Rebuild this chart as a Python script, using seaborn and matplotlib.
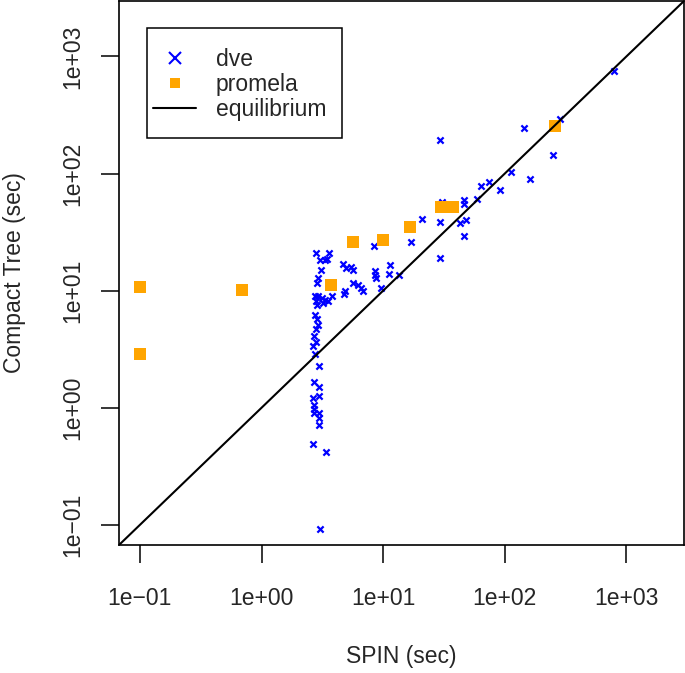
import matplotlib
matplotlib.use('Agg')
import matplotlib.pyplot as plt
from matplotlib.lines import Line2D
from matplotlib.patches import Rectangle
import pandas as pd
import seaborn as sns

# dve runs: SPIN time vs compact tree time (sec)
dve_spin = [2.79, 3.61, 3.03, 3.33, 3.48, 3.09, 4.71, 4.93, 5.42, 5.70,
            2.90, 2.85, 5.63, 6.26, 6.55, 6.81, 4.87, 4.77, 2.76, 2.93,
            3.13, 3.33, 3.55, 3.78, 2.79, 2.85, 3.23, 2.76, 2.85, 2.93,
            2.79, 2.72, 2.79, 2.67, 2.76, 2.97, 2.70, 2.99, 2.99, 2.67,
            2.70, 2.70, 2.70, 2.97, 2.97, 2.97, 2.67, 3.40, 3.03, 8.43,
            17.0, 8.59, 8.59, 8.75, 11.3, 11.2, 13.6, 9.57, 20.8, 29.5,
            29.1, 29.1, 145, 249, 112, 160, 63.7, 73.6, 90.6, 45.8,
            45.8, 59.0, 30.4, 43.0, 48.2, 45.8, 786, 283]
dve_tree = [20.8, 21.1, 18.3, 18.3, 18.5, 14.9, 16.9, 15.6, 15.8, 14.9,
            12.8, 11.6, 11.7, 11.2, 10.5, 9.86, 9.86, 9.43, 8.96, 8.96,
            8.67, 8.39, 8.12, 8.96, 8.12, 7.61, 7.86, 6.14, 5.68, 5.05,
            4.67, 4.10, 3.61, 3.37, 2.87, 2.28, 1.67, 1.50, 1.27, 1.21,
            1.06, 0.98, 0.90, 0.90, 0.81, 0.71, 0.486, 0.42, 0.0925, 24.0,
            26.2, 14.6, 13.7, 12.8, 16.6, 13.9, 13.7, 10.5, 40.7, 18.9,
            38.7, 193, 247, 145, 104, 88.9, 78.0, 84.4, 72.8, 59.1,
            55.4, 60.2, 57.1, 37.5, 40.0, 29.4, 746, 294]

# promela runs
promela_spin = [0.1, 0.1, 0.69, 3.7, 5.6, 10.0, 16.7, 30.0, 37.5, 260]
promela_tree = [10.8, 2.9, 10.2, 11.2, 26.0, 27.0, 35.0, 51.8, 51.8, 255]

axis_lims = [0.0673, 2972]
tick_vals = [0.1, 1, 10, 100, 1000]
tick_labels = ['1e\u221201', '1e+00', '1e+01', '1e+02', '1e+03']
legend_labels = ['dve', 'promela', 'equilibrium']

sns.set_style('ticks')
plt.rcParams['font.family'] = ['Liberation Sans', 'DejaVu Sans']
FS = 16.5

dve = pd.DataFrame({'spin': dve_spin, 'tree': dve_tree})
promela = pd.DataFrame({'spin': promela_spin, 'tree': promela_tree})

fig = plt.figure(figsize=(6.85, 6.73), dpi=100)
ax = fig.add_axes([119 / 685, 128 / 673, 565 / 685, 544 / 673])

sns.scatterplot(data=dve, x='spin', y='tree', marker='x', color='blue',
                s=20, linewidth=1.6, ax=ax, legend=False, zorder=2)
sns.scatterplot(data=promela, x='spin', y='tree', marker='s', color='orange',
                s=75, linewidth=0, ax=ax, legend=False, zorder=3)
ax.plot(axis_lims, axis_lims, color='black', lw=1.5, zorder=4)

ax.set_xscale('log')
ax.set_yscale('log')
ax.set_xlim(axis_lims)
ax.set_ylim(axis_lims)
ax.minorticks_off()
ax.set_xticks(tick_vals, tick_labels)
ax.set_yticks(tick_vals, tick_labels, rotation=90, va='center')
ax.tick_params(length=13, width=1.1, labelsize=FS, direction='out', color='black')
ax.tick_params(axis='x', pad=17)
ax.tick_params(axis='y', pad=12)
for sp in ax.spines.values():
    sp.set_visible(True)
    sp.set_linewidth(1.2)
    sp.set_color('black')

ax.set_xlabel('SPIN (sec)', fontsize=FS)
ax.set_ylabel('Compact Tree (sec)', fontsize=FS)
ax.xaxis.set_label_coords(0.5, -0.183)
ax.yaxis.set_label_coords(-0.165, 0.5)

handles = [
    Line2D([], [], marker='x', color='blue', ls='none', markersize=8.5, mew=1.5),
    Line2D([], [], marker='s', color='orange', ls='none', markersize=7.5, mew=0),
    Line2D([], [], color='black', lw=1.5),
]
ax.legend(handles, legend_labels, loc='upper left', bbox_to_anchor=(0.0597, 0.913),
          frameon=False, handlelength=1.9, handletextpad=0.85, labelspacing=0.075,
          borderaxespad=0, borderpad=0, fontsize=FS)
ax.add_patch(Rectangle((27.7 / 565, 1 - 137.7 / 545), 195.3 / 565, 111 / 545,
                       transform=ax.transAxes, fill=False, lw=1.1, ec='black', zorder=5))

fig.savefig('out.png', dpi=100)
